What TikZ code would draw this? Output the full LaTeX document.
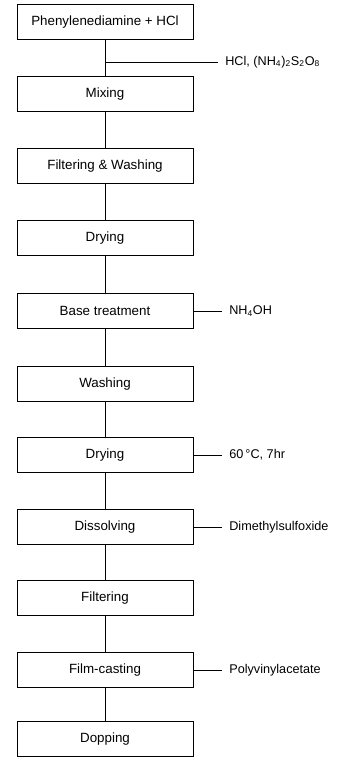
\documentclass[tikz,border=0pt]{standalone}
\usepackage{fontspec}
\setmainfont{Liberation Sans}
\usepackage{tikz}
\tikzset{
  stepbox/.style={draw, line width=0.6pt, minimum width=4.4cm, minimum height=0.88cm,
                  inner sep=2pt, font=\fontsize{9.5}{11}\selectfont},
  reagent/.style={anchor=west, inner xsep=5pt, inner ysep=1pt, font=\fontsize{9}{11}\selectfont},
  link/.style={line width=0.6pt},
}

\begin{document}
\begin{tikzpicture}[x=0.025cm, y=-0.025cm]
    \useasboundingbox (0,0) rectangle (353,760);

    % --- process steps -------------------------------------------------
    \node[stepbox] (start)    at (105, 22.0)  {Phenylenediamine + HCl};
    \node[stepbox] (mix)      at (105, 94.0)  {Mixing};
    \node[stepbox] (filtwash) at (105,166.0)  {Filtering \& Washing};
    \node[stepbox] (dryA)     at (105,238.0)  {Drying};
    \node[stepbox] (base)     at (105,311.0)  {Base treatment};
    \node[stepbox] (wash)     at (105,384.0)  {Washing};
    \node[stepbox] (dryB)     at (105,455.0)  {Drying};
    \node[stepbox] (dissolve) at (105,527.0)  {Dissolving};
    \node[stepbox] (filt)     at (105,598.0)  {Filtering};
    \node[stepbox] (cast)     at (105,670.0)  {Film-casting};
    \node[stepbox] (dope)     at (105,739.0)  {Dopping};

    % --- flow ------------------------------------------------------------
    \foreach \a/\b in {start/mix, mix/filtwash, filtwash/dryA, dryA/base, base/wash,
                       wash/dryB, dryB/dissolve, dissolve/filt, filt/cast, cast/dope}
      \draw[link] (\a.south) -- (\b.north);

    % --- what goes in at each step -----------------------------------------
    \coordinate (feed) at (105,62);
    \node[reagent] (oxid)  at (218,62)  {HCl, (NH\textsubscript{4})\textsubscript{2}S\textsubscript{2}O\textsubscript{8}};
    \node[reagent] (nhoh)  at (222,311) {NH\textsubscript{4}OH};
    \node[reagent] (cond)  at (222,455) {60\,°C, 7hr};
    \node[reagent] (dmso)  at (222,527) {Dimethylsulfoxide};
    \node[reagent] (pvac)  at (222,670) {Polyvinylacetate};

    \draw[link] (feed) -- (oxid.west);
    \draw[link] (base.east) -- (nhoh.west);
    \draw[link] (dryB.east) -- (cond.west);
    \draw[link] (dissolve.east) -- (dmso.west);
    \draw[link] (cast.east) -- (pvac.west);
  \end{tikzpicture}
\end{document}
